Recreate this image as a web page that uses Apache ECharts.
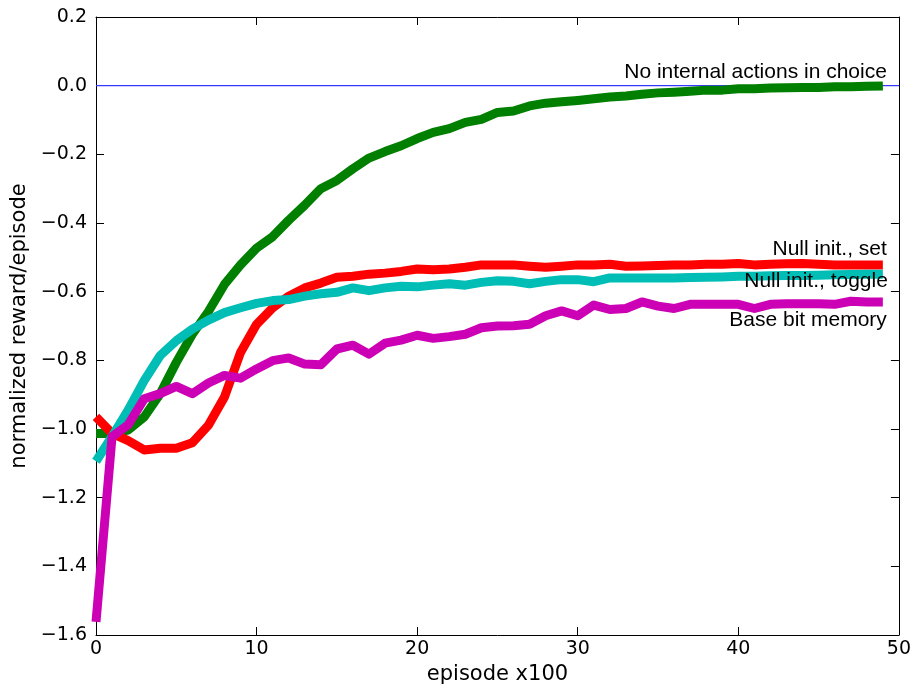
<!DOCTYPE html>
<html>
<head>
<meta charset="utf-8">
<script src="https://cdn.jsdelivr.net/npm/echarts@6/dist/echarts.min.js"></script>
<style>
html,body{margin:0;padding:0;background:#fff;}
#chart{width:914px;height:690px;}
</style>
</head>
<body>
<div id="chart"></div>
<script>
var episodes = [];
for (var i = 0; i < 50; i++) episodes.push(i);

var seriesNames = ['No internal actions in choice', 'Null init., set', 'Null init., toggle', 'Base bit memory'];

var noInternal = [-1.013,-1.013,-1.003,-0.965,-0.897,-0.806,-0.724,-0.658,-0.579,-0.522,
  -0.473,-0.440,-0.392,-0.348,-0.300,-0.276,-0.242,-0.211,-0.192,-0.175,
  -0.154,-0.136,-0.125,-0.107,-0.098,-0.078,-0.074,-0.059,-0.051,-0.047,
  -0.043,-0.038,-0.033,-0.030,-0.025,-0.021,-0.019,-0.016,-0.013,-0.013,
  -0.009,-0.009,-0.007,-0.006,-0.005,-0.005,-0.003,-0.003,-0.002,-0.001];

var nullSet = [-0.965,-1.013,-1.034,-1.061,-1.056,-1.056,-1.040,-0.989,-0.907,-0.777,
  -0.695,-0.647,-0.613,-0.589,-0.575,-0.558,-0.555,-0.549,-0.546,-0.541,
  -0.534,-0.536,-0.534,-0.529,-0.522,-0.522,-0.522,-0.526,-0.529,-0.526,
  -0.522,-0.522,-0.520,-0.526,-0.525,-0.524,-0.522,-0.522,-0.520,-0.520,
  -0.518,-0.522,-0.520,-0.519,-0.518,-0.520,-0.522,-0.522,-0.522,-0.522];

var nullToggle = [-1.094,-1.022,-0.945,-0.859,-0.786,-0.743,-0.709,-0.683,-0.661,-0.647,
  -0.634,-0.626,-0.623,-0.613,-0.606,-0.602,-0.589,-0.597,-0.589,-0.584,
  -0.586,-0.581,-0.577,-0.581,-0.573,-0.568,-0.570,-0.577,-0.570,-0.565,
  -0.565,-0.571,-0.560,-0.560,-0.560,-0.560,-0.560,-0.559,-0.558,-0.557,
  -0.555,-0.555,-0.554,-0.553,-0.553,-0.552,-0.551,-0.550,-0.549,-0.549];

var baseBit = [-1.562,-1.022,-0.988,-0.912,-0.897,-0.876,-0.897,-0.866,-0.844,-0.852,
  -0.825,-0.801,-0.793,-0.811,-0.813,-0.767,-0.756,-0.782,-0.750,-0.741,
  -0.727,-0.736,-0.731,-0.724,-0.705,-0.700,-0.699,-0.695,-0.670,-0.656,
  -0.670,-0.639,-0.652,-0.649,-0.630,-0.642,-0.649,-0.637,-0.637,-0.637,
  -0.637,-0.649,-0.637,-0.635,-0.635,-0.635,-0.637,-0.628,-0.630,-0.630];

var referenceX = [0, 50];
var referenceY = [0, 0];

var xTicks = [0, 10, 20, 30, 40, 50];
var yTicks = [-1.6, -1.4, -1.2, -1.0, -0.8, -0.6, -0.4, -0.2, 0.0, 0.2];

var colors = ['#007f00', '#ff0000', '#00bdb5', '#cc00b4'];
var labelOffsets = [[4, -14], [4, -16], [5, 7], [4, 18]];

function pairs(xs, ys) { return xs.map(function (x, k) { return [x, ys[k]]; }); }
function fmtY(v) {
  var a = Math.abs(v).toFixed(1);
  return (v < -1e-9 ? '\u2212' : '') + a;
}

var allData = [noInternal, nullSet, nullToggle, baseBit];

var tickFont = { fontFamily: 'DejaVu Sans', fontSize: 19, color: '#000' };
var axisLine = { show: true, onZero: false, lineStyle: { color: '#000', width: 1 } };
var axisTick = { show: true, inside: true, length: 8, lineStyle: { color: '#000', width: 1 } };

var series = [{
  type: 'line',
  data: pairs(referenceX, referenceY),
  showSymbol: false,
  symbol: 'none',
  lineStyle: { color: '#3838ff', width: 1.3 },
  z: 1,
  silent: true
}];

allData.forEach(function (d, k) {
  series.push({
    name: seriesNames[k],
    type: 'line',
    data: pairs(episodes, d),
    symbol: 'none',
    showSymbol: false,
    lineStyle: { color: colors[k], width: 9, cap: 'butt', join: 'round' },
    z: 2 + k,
    markPoint: {
      symbol: 'circle',
      symbolSize: 0,
      silent: true,
      data: [{ coord: [episodes[episodes.length - 1], d[d.length - 1]] }],
      label: {
        show: true,
        position: 'inside',
        formatter: seriesNames[k],
        align: 'right',
        verticalAlign: 'middle',
        offset: labelOffsets[k],
        fontFamily: 'Liberation Sans',
        fontSize: 21,
        color: '#000'
      }
    }
  });
});

var chart = echarts.init(document.getElementById('chart'), null, { renderer: 'canvas' });
chart.setOption({
  animation: false,
  backgroundColor: '#fff',
  grid: { left: 96, top: 17, right: 13, bottom: 50, show: false },
  xAxis: [{
    type: 'value', min: xTicks[0], max: xTicks[xTicks.length - 1], interval: 10,
    position: 'bottom',
    axisLine: axisLine, axisTick: axisTick, splitLine: { show: false },
    axisLabel: Object.assign({ margin: 5, showMinLabel: true, showMaxLabel: true }, tickFont),
    name: 'episode x100', nameLocation: 'middle', nameGap: 29,
    nameTextStyle: { fontFamily: 'DejaVu Sans', fontSize: 21, color: '#000' }
  }, {
    type: 'value', min: xTicks[0], max: xTicks[xTicks.length - 1], interval: 10,
    position: 'top',
    axisLine: axisLine, axisTick: axisTick, splitLine: { show: false },
    axisLabel: { show: false }
  }],
  yAxis: [{
    type: 'value', min: yTicks[0], max: yTicks[yTicks.length - 1], interval: 0.2,
    position: 'left',
    axisLine: axisLine, axisTick: axisTick, splitLine: { show: false },
    axisLabel: Object.assign({ margin: 9, formatter: fmtY, showMinLabel: true, showMaxLabel: true }, tickFont),
    name: 'normalized reward/episode', nameLocation: 'middle', nameGap: 66,
    nameTextStyle: { fontFamily: 'DejaVu Sans', fontSize: 21, color: '#000' }
  }, {
    type: 'value', min: yTicks[0], max: yTicks[yTicks.length - 1], interval: 0.2,
    position: 'right',
    axisLine: axisLine, axisTick: axisTick, splitLine: { show: false },
    axisLabel: { show: false }
  }],
  series: series
});
</script>
</body>
</html>
